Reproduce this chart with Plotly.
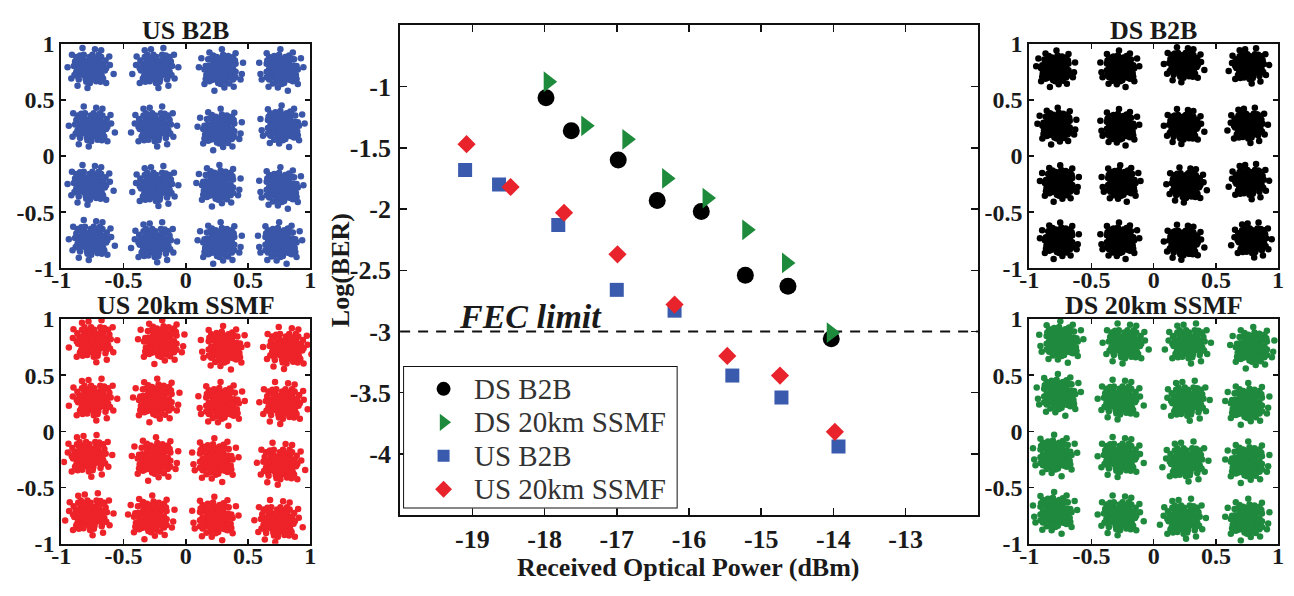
import numpy as np
import plotly.graph_objects as go

# ---------------- BER data ----------------
ds_b2b_x = [-17.98, -17.63, -16.98, -16.44, -15.83, -15.22, -14.63, -14.03]
ds_b2b_y = [-1.09, -1.36, -1.60, -1.93, -2.02, -2.54, -2.63, -3.06]
ds_20_x = [-17.95, -17.43, -16.86, -16.31, -15.75, -15.20, -14.65, -14.03]
ds_20_y = [-0.96, -1.32, -1.43, -1.75, -1.91, -2.17, -2.44, -3.01]
us_b2b_x = [-19.10, -18.63, -17.81, -17.00, -16.20, -15.40, -14.72, -13.93]
us_b2b_y = [-1.68, -1.80, -2.13, -2.66, -2.83, -3.36, -3.54, -3.94]
us_20_x = [-19.08, -18.47, -17.73, -16.99, -16.20, -15.47, -14.74, -13.98]
us_20_y = [-1.47, -1.82, -2.03, -2.37, -2.78, -3.20, -3.36, -3.82]
series_names = ["DS B2B", "DS 20km SSMF", "US B2B", "US 20km SSMF"]
FEC_LIMIT = -3.0
fec_label = "FEC limit"

main_xticks = [-19, -18, -17, -16, -15, -14, -13]
main_xticktext = ["-19", "-18", "-17", "-16", "-15", "-14", "-13"]
main_yticks = [-1, -1.5, -2, -2.5, -3, -3.5, -4]
main_yticktext = ["-1", "-1.5", "-2", "-2.5", "-3", "-3.5", "-4"]
x_title = "Received Optical Power (dBm)"
y_title = "Log(BER)"

# ---------------- constellation cluster centres ----------------
us_b2b_ci = [-0.77, -0.24, 0.28, 0.77, -0.76, -0.25, 0.27, 0.78, -0.77, -0.24, 0.26, 0.77, -0.76, -0.25, 0.27, 0.76]
us_b2b_cq = [0.78, 0.78, 0.77, 0.77, 0.26, 0.26, 0.24, 0.27, -0.26, -0.27, -0.26, -0.28, -0.75, -0.77, -0.77, -0.77]
us_20_ci = [-0.74, -0.20, 0.31, 0.81, -0.74, -0.24, 0.29, 0.78, -0.78, -0.25, 0.24, 0.76, -0.77, -0.28, 0.24, 0.74]
us_20_cq = [0.80, 0.80, 0.75, 0.74, 0.28, 0.28, 0.25, 0.25, -0.22, -0.24, -0.25, -0.29, -0.74, -0.76, -0.77, -0.80]
ds_b2b_ci = [-0.79, -0.27, 0.24, 0.77, -0.78, -0.27, 0.24, 0.76, -0.76, -0.26, 0.26, 0.77, -0.76, -0.27, 0.24, 0.79]
ds_b2b_cq = [0.78, 0.78, 0.81, 0.80, 0.27, 0.26, 0.26, 0.27, -0.24, -0.24, -0.26, -0.23, -0.75, -0.75, -0.77, -0.75]
ds_20_ci = [-0.74, -0.23, 0.28, 0.79, -0.76, -0.27, 0.27, 0.75, -0.79, -0.27, 0.26, 0.75, -0.79, -0.27, 0.24, 0.75]
ds_20_cq = [0.80, 0.78, 0.78, 0.75, 0.33, 0.28, 0.27, 0.25, -0.21, -0.23, -0.27, -0.27, -0.72, -0.75, -0.78, -0.78]
panel_titles = ["US B2B", "US 20km SSMF", "DS B2B", "DS 20km SSMF"]
panel_spread = [0.10, 0.105, 0.088, 0.10]
const_ticks = [-1, -0.5, 0, 0.5, 1]
const_ticktext = ["-1", "-0.5", "0", "0.5", "1"]

# hand-drawn shape of one received-symbol cloud (offsets, in units of the spread)
cloud_dx = [0.0, 0.3, -0.2, 0.5, -0.4, 0.1, -0.6, 0.2, 0.7, -0.3, 0.6, -0.7, 0.4, -0.1, 0.8, -0.8, 0.0, 0.1, -0.5, 0.5,
            -0.9, 0.9, 0.3, -0.3, 0.0, -0.5, 0.7, -0.2, 0.35, -0.65, 0.15, -0.45, 0.55, -0.15, 0.25, -0.85, 0.85, 0.05, -0.35, 0.45,
            -0.05, 1.0, -1.0, 0.6, -0.6, 0.3, -0.95, 0.95, 0.75, -0.75,
            1.1, -1.1, 0.2, -0.3, 1.2, -1.2, 0.9, -0.9, 0.5, -0.5, 1.05, -1.1, 1.25, -1.25, 0.0, 0.7, -0.8, 1.3, -1.3, 0.85,
            1.6, -1.5, 0.4, -0.2, 1.3, -1.45, 1.9, -1.8, 0.9, -1.0, 1.55, -0.6]
cloud_dy = [0.0, 0.1, 0.3, -0.2, -0.3, -0.5, 0.1, 0.6, 0.3, -0.7, -0.6, 0.5, 0.4, -0.2, 0.0, -0.1, 0.8, -0.9, 0.7, 0.8,
            -0.5, -0.4, -0.3, 0.0, 0.4, -0.6, 0.6, -0.4, -0.75, -0.25, 0.25, 0.45, 0.15, 0.65, -0.15, 0.3, 0.35, -0.65, -0.95, -0.45,
            1.0, 0.1, 0.1, -0.9, 0.9, 0.95, -0.75, -0.7, 0.85, 0.8,
            0.4, -0.3, 1.2, -1.2, -0.2, 0.6, 1.0, -1.0, -1.15, 1.2, -0.9, 1.0, 0.7, -0.6, -1.3, 1.2, 1.15, 0.0, 0.2, -1.2,
            0.3, -0.9, 1.7, -1.75, -1.3, 1.2, -0.5, 0.1, 1.6, -1.55, 1.05, 1.8]

F = "Liberation Serif"
TXT = "#1a1a1a"

fig = go.Figure()

symbols = ["circle", "triangle-right", "square", "diamond"]
sizes = [17, 18, 14, 14]
colors = ["#000000", "#1e8a3c", "#3a5aad", "#e8232b"]
main_series = [(ds_b2b_x, ds_b2b_y), (ds_20_x, ds_20_y), (us_b2b_x, us_b2b_y), (us_20_x, us_20_y)]
for (xs, ys), sym, sz, col, name in zip(main_series, symbols, sizes, colors, series_names):
    fig.add_trace(go.Scatter(x=xs, y=ys, mode="markers", name=name, showlegend=False,
                             marker=dict(symbol=sym, size=sz, color=col, opacity=1, line=dict(width=0)),
                             xaxis="x", yaxis="y"))

# constellation panels
cdx = np.array(cloud_dx)
cdy = np.array(cloud_dy)
panels = [
    (us_b2b_ci, us_b2b_cq, "#3a56a8", 2),
    (us_20_ci, us_20_cq, "#ee2229", 3),
    (ds_b2b_ci, ds_b2b_cq, "#000000", 4),
    (ds_20_ci, ds_20_cq, "#1f8a3e", 5),
]
for p, (ci, cq, col, ax) in enumerate(panels):
    s = panel_spread[p]
    xs, ys = [], []
    for k, (cx, cy) in enumerate(zip(ci, cq)):
        o = (k + p) % 4
        if o == 0:
            dx, dy = cdx, cdy
        elif o == 1:
            dx, dy = -cdx, cdy
        elif o == 2:
            dx, dy = cdy, -cdx
        else:
            dx, dy = -cdy, -cdx
        xs.append(cx + s * dx)
        ys.append(cy + s * dy)
    fig.add_trace(go.Scatter(x=np.concatenate(xs), y=np.concatenate(ys), mode="markers",
                             showlegend=False, hoverinfo="skip",
                             marker=dict(size=6.5, color=col, opacity=1, line=dict(width=0)),
                             xaxis=f"x{ax}", yaxis=f"y{ax}"))

W, H = 1294, 596
def px_x(a, b):
    return [a / W, b / W]
def px_y(top, bottom):
    return [1 - bottom / H, 1 - top / H]

# legend box (drawn on its own pixel-unit overlay axes)
LEG_L, LEG_R, LEG_T, LEG_B = 398, 676, 369, 518
leg_marker_x = 439
leg_text_x = 468
leg_rows = [393, 428, 463, 498]
leg_sizes = [14, 15, 12, 13]
fig.add_trace(go.Scatter(x=[leg_marker_x] * 4, y=leg_rows, mode="markers", showlegend=False,
                         hoverinfo="skip",
                         marker=dict(symbol=symbols, size=leg_sizes, color=colors, opacity=1,
                                     line=dict(width=0)),
                         xaxis="x6", yaxis="y6"))

main_ax = dict(showline=True, linewidth=2, linecolor="#111", mirror="ticks", ticks="inside",
               ticklen=7, tickwidth=1.5, tickcolor="#111", showgrid=False, zeroline=False,
               tickfont=dict(family=F, size=26, color=TXT, weight="bold"))
layout = dict(
    width=W, height=H, margin=dict(l=0, r=0, t=0, b=0),
    paper_bgcolor="white", plot_bgcolor="white", showlegend=False,
    xaxis=dict(main_ax, domain=px_x(395, 980), range=[-20, -12], tickvals=main_xticks,
               ticktext=main_xticktext, anchor="y"),
    yaxis=dict(main_ax, domain=px_y(13, 525), range=[-4.5, -0.5], tickvals=main_yticks,
               ticktext=main_yticktext, anchor="x", ticklabelstandoff=2),
    xaxis6=dict(domain=px_x(LEG_L, LEG_R), range=[LEG_L, LEG_R], visible=False, anchor="y6",
                fixedrange=True),
    yaxis6=dict(domain=px_y(LEG_T, LEG_B), range=[LEG_B, LEG_T], visible=False, anchor="x6",
                fixedrange=True),
)

panel_geo = [
    (2, px_x(52, 304), px_y(32, 267)),
    (3, px_x(52, 304), px_y(320, 555)),
    (4, px_x(1032, 1284), px_y(32, 267)),
    (5, px_x(1032, 1284), px_y(320, 555)),
]
pax = dict(showline=True, linewidth=2, linecolor="#111", mirror="ticks", ticks="inside",
           ticklen=5, tickwidth=1.5, tickcolor="#111", showgrid=False, zeroline=False,
           range=[-1, 1], tickvals=const_ticks, ticktext=const_ticktext,
           tickfont=dict(family=F, size=24, color=TXT, weight="bold"))
annotations = []
for (ax, dx, dy), title in zip(panel_geo, panel_titles):
    layout[f"xaxis{ax}"] = dict(pax, domain=dx, anchor=f"y{ax}", ticklabelstandoff=-11)
    layout[f"yaxis{ax}"] = dict(pax, domain=dy, anchor=f"x{ax}", ticklabelstandoff=0)
    annotations.append(dict(text=title, xref="paper", yref="paper",
                            x=(dx[0] + dx[1]) / 2, y=dy[1], yanchor="bottom", xanchor="center",
                            yshift=-2, showarrow=False, borderpad=0,
                            font=dict(family=F, size=26, color=TXT, weight="bold")))

for name, ry in zip(series_names, leg_rows):
    annotations.append(dict(text=name, xref="x6", yref="y6", x=leg_text_x, y=ry,
                            xanchor="left", yanchor="middle", showarrow=False,
                            font=dict(family=F, size=29, color="#333")))

annotations.append(dict(text=x_title, xref="paper", yref="paper", x=687.5 / W, y=1 - 580 / H,
                        xanchor="center", yanchor="middle", showarrow=False,
                        font=dict(family=F, size=26, color=TXT, weight="bold")))
annotations.append(dict(text=y_title, xref="paper", yref="paper", x=334 / W, y=1 - 269 / H,
                        xanchor="center", yanchor="middle", showarrow=False, textangle=-90,
                        font=dict(family=F, size=26, color=TXT, weight="bold")))
annotations.append(dict(text=fec_label, xref="x", yref="y", x=-18.2, y=FEC_LIMIT,
                        xanchor="center", yanchor="bottom", yshift=-6, showarrow=False,
                        font=dict(family=F, size=34, color=TXT, weight="bold", style="italic")))
layout["annotations"] = annotations
layout["shapes"] = [
    dict(type="line", xref="x", yref="y", x0=-20, x1=-12, y0=FEC_LIMIT, y1=FEC_LIMIT,
         line=dict(color="#111", width=2, dash="10px,8px"), layer="below"),
    dict(type="rect", xref="x6", yref="y6", x0=LEG_L, x1=LEG_R, y0=LEG_T, y1=LEG_B,
         line=dict(color="#111", width=2), fillcolor="rgba(0,0,0,0)", layer="above"),
]

fig.update_layout(layout)
fig.write_html("out.html", config={"displayModeBar": False, "staticPlot": True},
               post_script="document.body.style.margin='0';document.body.style.overflow='hidden';")
